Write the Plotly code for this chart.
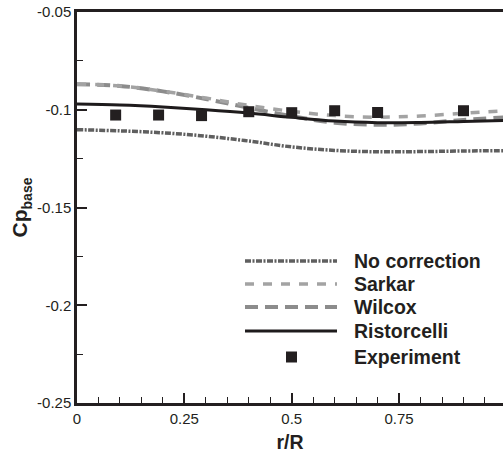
import plotly.graph_objects as go

# ---- data ----
r_grid = [0.0, 0.1, 0.2, 0.3, 0.4, 0.5, 0.6, 0.7, 0.8, 0.9, 1.0]
no_correction = [-0.1102, -0.1108, -0.1118, -0.1135, -0.1160, -0.1190, -0.1208, -0.1215, -0.1214, -0.1211, -0.1209]
sarkar = [-0.0869, -0.0878, -0.0905, -0.0940, -0.0978, -0.1008, -0.1030, -0.1038, -0.1032, -0.1018, -0.1005]
wilcox = [-0.0869, -0.0878, -0.0906, -0.0945, -0.0990, -0.1033, -0.1066, -0.1077, -0.1070, -0.1052, -0.1038]
ristorcelli = [-0.0971, -0.0976, -0.0986, -0.1000, -0.1017, -0.1039, -0.1058, -0.1066, -0.1065, -0.1060, -0.1055]
exp_r = [0.09, 0.19, 0.29, 0.40, 0.50, 0.60, 0.70, 0.90]
exp_cp = [-0.1027, -0.1027, -0.1030, -0.1010, -0.1015, -0.1005, -0.1014, -0.1005]

x_ticks = [0, 0.25, 0.5, 0.75, 1]
x_ticklabels = ["0", "0.25", "0.5", "0.75", "1"]
y_ticks = [-0.25, -0.2, -0.15, -0.1, -0.05]
y_ticklabels = ["-0.25", "-0.2", "-0.15", "-0.1", "-0.05"]

names = ["No correction", "Sarkar", "Wilcox", "Ristorcelli", "Experiment"]

# ---- styles ----
styles = {
    "No correction": dict(color="#5f5f5f", width=3.5, dash="6px,1.5px,2px,1.5px"),
    "Sarkar": dict(color="#a3a3a3", width=3.5, dash="9px,9px"),
    "Wilcox": dict(color="#8c8c8c", width=4, dash="13px,7px"),
    "Ristorcelli": dict(color="#1e1b1c", width=3, dash="solid"),
}
series = {"No correction": no_correction, "Sarkar": sarkar, "Wilcox": wilcox, "Ristorcelli": ristorcelli}

fig = go.Figure()
for name in ["No correction", "Wilcox", "Sarkar", "Ristorcelli"]:
    fig.add_trace(go.Scatter(x=r_grid, y=series[name], mode="lines", name=name,
                             line=dict(shape="spline", **styles[name]), showlegend=False))
fig.add_trace(go.Scatter(x=exp_r, y=exp_cp, mode="markers", name="Experiment",
                         marker=dict(symbol="square", size=11, color="#231f20"), showlegend=False))

W, H = 503, 455
L, T, B, R = 77, 12, 52, 0
pw, ph = W - L - R, H - T - B


def px(x):
    return (x - L) / pw


def py(y):
    return (H - B - y) / ph


# manual legend
rows = [261, 284, 307, 331, 357]
shapes = []
annotations = []
for name, yy in zip(names, rows):
    if name in styles:
        s = styles[name]
        shapes.append(dict(type="line", xref="paper", yref="paper", x0=px(245), x1=px(337),
                           y0=py(yy), y1=py(yy), line=dict(color=s["color"], width=s["width"], dash=s["dash"])))
    else:
        shapes.append(dict(type="rect", xref="paper", yref="paper", x0=px(286), x1=px(297),
                           y0=py(yy - 5.5), y1=py(yy + 5.5), fillcolor="#231f20", line=dict(width=0)))
    annotations.append(dict(text="<b>" + name + "</b>", xref="paper", yref="paper", x=px(352), y=py(yy),
                            xanchor="left", yanchor="middle", showarrow=False,
                            font=dict(size=19.5, color="#231f20", family="Liberation Sans, Arial")))

fig.update_layout(
    width=W, height=H,
    margin=dict(l=L, r=R, t=T, b=B),
    plot_bgcolor="white", paper_bgcolor="white",
    font=dict(family="Liberation Sans, Arial", size=15, color="#231f20"),
    shapes=shapes, annotations=annotations,
    xaxis=dict(range=[0, 0.992], tickvals=x_ticks, ticktext=x_ticklabels, ticks="inside", ticklen=10,
               tickwidth=1.5, tickcolor="#231f20", showline=True, linewidth=2.5, linecolor="#231f20",
               mirror=True, showgrid=False, zeroline=False, tickfont=dict(size=15),
               minor=dict(dtick=0.05, tick0=0, ticks="inside", ticklen=6, tickwidth=1, tickcolor="#231f20"),
               title=dict(text="<b>r/R</b>", font=dict(size=19.5), standoff=10)),
    yaxis=dict(range=[-0.25, -0.05], tickvals=y_ticks, ticktext=y_ticklabels, ticks="inside", ticklen=10,
               tickwidth=1.5, tickcolor="#231f20", showline=True, linewidth=2.5, linecolor="#231f20",
               showgrid=False, zeroline=False, tickfont=dict(size=15),
               minor=dict(dtick=0.025, tick0=-0.25, ticks="inside", ticklen=6, tickwidth=1, tickcolor="#231f20"),
               title=dict(text="<b>Cp<sub><span style='font-size:14px'>base</span></sub></b>",
                          font=dict(size=21), standoff=4)),
)

fig.write_html("out.html")
